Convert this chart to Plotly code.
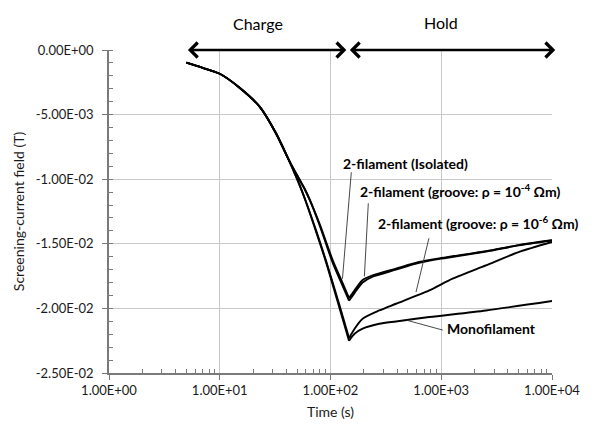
import numpy as np
import plotly.graph_objects as go

# ---------------- data ----------------
t_shared = [5, 7, 10, 15, 23, 32, 42]
y_shared = [-0.00098, -0.00138, -0.00184, -0.0029, -0.0044, -0.0064, -0.0085]

t_isolated = t_shared + [50, 58, 65, 80, 105, 125, 147, 165, 195, 240, 390, 630, 1000, 2550, 5000, 10000]
y_isolated = y_shared + [-0.0097, -0.0107, -0.0116, -0.0135, -0.0163, -0.0178, -0.0192,
                         -0.0186, -0.0178, -0.01744, -0.01692, -0.01641, -0.0161, -0.01557, -0.0151, -0.01473]

t_groove4 = t_shared + [50, 58, 65, 80, 105, 125, 147, 165, 195, 240, 390, 630, 1000, 2550, 5000, 10000]
y_groove4 = y_shared + [-0.0097, -0.0107, -0.0116, -0.0136, -0.0165, -0.0180, -0.0194,
                        -0.0188, -0.0180, -0.01755, -0.01700, -0.01648, -0.01615, -0.0156, -0.01512, -0.01474]

t_groove6 = t_shared + [50, 58, 75, 91, 120, 147, 165, 195, 276, 390, 780, 1265, 2530, 5050, 10000]
y_groove6 = y_shared + [-0.0100, -0.0114, -0.0141, -0.0163, -0.0197, -0.0223,
                        -0.02157, -0.0208, -0.02016, -0.01964, -0.0186, -0.0177, -0.01667, -0.01563, -0.01486]

t_mono = t_shared + [50, 58, 75, 91, 120, 147, 165, 195, 276, 390, 780, 2530, 10000]
y_mono = y_shared + [-0.0100, -0.0114, -0.0142, -0.0164, -0.0199, -0.0225,
                     -0.02196, -0.02157, -0.02119, -0.02101, -0.02067, -0.02016, -0.01943]

series_names = ["2-filament (Isolated)", "2-filament (groove: ρ = 10-4 Ωm)",
                "2-filament (groove: ρ = 10-6 Ωm)", "Monofilament"]

x_tickvals = [1, 10, 100, 1000, 10000]
x_ticktext = ["1.00E+00", "1.00E+01", "1.00E+02", "1.00E+03", "1.00E+04"]
y_tickvals = [0, -0.005, -0.01, -0.015, -0.02, -0.025]
y_ticktext = ["0.00E+00", "-5.00E-03", "-1.00E-02", "-1.50E-02", "-2.00E-02", "-2.50E-02"]
x_minor = [m * d for d in [1, 10, 100, 1000] for m in range(2, 10)]

charge_span = [5, 139]
hold_span = [145, 10700]

FONT = "Lato"

fig = go.Figure()
for t, y, nm in [(t_isolated, y_isolated, series_names[0]),
                 (t_groove4, y_groove4, series_names[1]),
                 (t_groove6, y_groove6, series_names[2]),
                 (t_mono, y_mono, series_names[3])]:
    k = int(np.argmin(y))
    # charge phase and hold phase drawn as smooth pieces meeting at the cusp
    for xs, ys in [(t[:k + 1], y[:k + 1]), (t[k:], y[k:])]:
        fig.add_trace(go.Scatter(x=xs, y=ys, mode="lines", name=nm,
                                 line=dict(color="black", width=1.9, shape="spline", smoothing=0.7),
                                 showlegend=False))

fig.update_layout(
    width=592, height=430,
    margin=dict(l=109, r=38, t=50, b=57),
    paper_bgcolor="white", plot_bgcolor="white",
    font=dict(family=FONT, size=13, color="#1a1a1a"),
)

fig.update_xaxes(
    type="log", range=[0, 4],
    tickvals=x_tickvals, ticktext=x_ticktext,
    showgrid=True, gridcolor="#c8c8c8", gridwidth=1,
    showline=True, linecolor="#7a7a7a", linewidth=1.5,
    ticks="outside", ticklen=5, tickcolor="#7a7a7a", tickwidth=1.2,
    minor=dict(tickvals=x_minor, ticks="inside", ticklen=4, tickcolor="#7a7a7a", showgrid=False),
    tickfont=dict(family=FONT, size=13, color="#1a1a1a"),
    title=dict(text="Time (s)", font=dict(family=FONT, size=14, color="#1a1a1a"), standoff=10),
    zeroline=False,
)
fig.update_yaxes(
    range=[-0.025, 0],
    tickvals=y_tickvals, ticktext=y_ticktext,
    showgrid=True, gridcolor="#c8c8c8", gridwidth=1,
    showline=True, linecolor="#7a7a7a", linewidth=1.5,
    ticks="outside", ticklen=5, tickcolor="#7a7a7a", tickwidth=1.2,
    minor=dict(dtick=0.001, ticks="inside", ticklen=4, tickcolor="#7a7a7a", showgrid=False),
    tickfont=dict(family=FONT, size=13, color="#1a1a1a"),
    ticklabelstandoff=6,
    title=dict(text="Screening-current field (T)", font=dict(family=FONT, size=14, color="#1a1a1a"), standoff=8),
    zeroline=False,
)

L = np.log10
# Phase arrows
for span in [charge_span, hold_span]:
    fig.add_annotation(x=L(span[1]), y=0, ax=L(span[0]), ay=0, xref="x", yref="y",
                       axref="x", ayref="y", text="", showarrow=True,
                       arrowhead=4, arrowside="end+start", arrowsize=1.2,
                       arrowwidth=2.4, arrowcolor="black")
fig.add_annotation(x=1.342, y=1.118, xref="x", yref="paper", text="Charge", showarrow=False,
                   font=dict(family=FONT, size=16, color="black"))
fig.add_annotation(x=3.0, y=1.121, xref="x", yref="paper", text="Hold", showarrow=False,
                   font=dict(family=FONT, size=16, color="black"))

# Curve labels
labels = [
    ("<b>2-filament (Isolated)</b>", 2.680, -0.00876),
    ("<b>2-filament (groove: ρ = 10<sup>-4</sup> Ωm)</b>", 3.176, -0.01085),
    ("<b>2-filament (groove: ρ = 10<sup>-6</sup> Ωm)</b>", 3.337, -0.01333),
    ("<b>Monofilament</b>", 3.455, -0.02155),
]
for txt, lx, ly in labels:
    fig.add_annotation(x=lx, y=ly, xref="x", yref="y", text=txt, showarrow=False,
                       font=dict(family=FONT, size=14, color="black"))

# Leader lines (start near label -> point on curve)
leaders = [
    ((2.189, -0.00935), (2.108, -0.0177)),
    ((2.342, -0.01175), (2.306, -0.01752)),
    ((2.892, -0.01445), (2.772, -0.01874)),
    ((3.027, -0.02171), (2.694, -0.02093)),
]
for (sx, sy), (ex, ey) in leaders:
    fig.add_annotation(x=ex, y=ey, ax=sx, ay=sy, xref="x", yref="y", axref="x", ayref="y",
                       text="", showarrow=True, arrowhead=0, arrowwidth=0.9, arrowcolor="#333333")

fig.write_html("out.html")
